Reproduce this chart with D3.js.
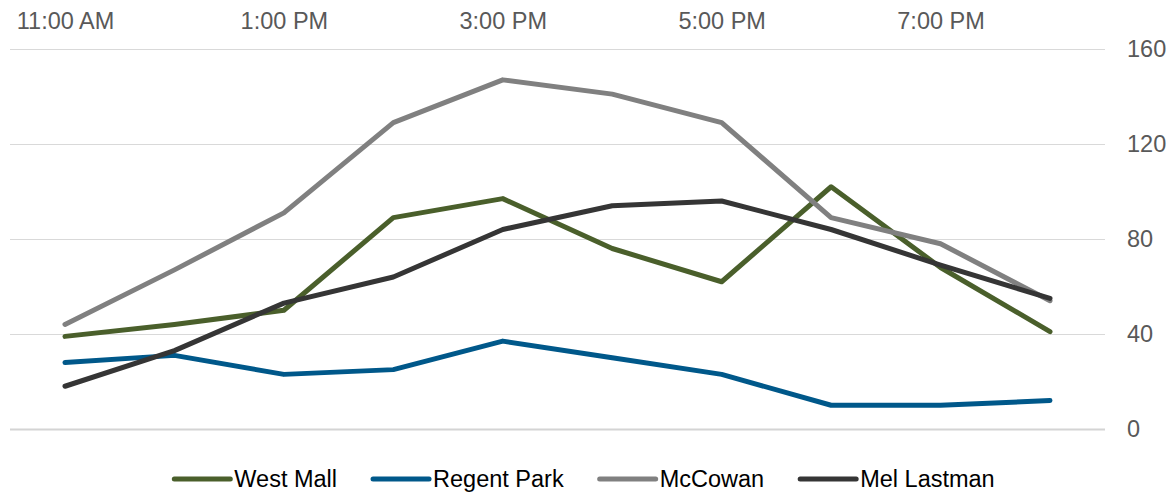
<!DOCTYPE html>
<html>
<head>
<meta charset="utf-8">
<script src="https://cdn.jsdelivr.net/npm/d3@7"></script>
<style>
  html, body { margin: 0; padding: 0; background: #fff; }
  svg { display: block; font-family: "Liberation Sans", Arial, sans-serif; }
</style>
</head>
<body>
<svg id="chart" width="1168" height="496"></svg>
<script>
const hours = ["11:00 AM","12:00 PM","1:00 PM","2:00 PM","3:00 PM","4:00 PM","5:00 PM","6:00 PM","7:00 PM","8:00 PM"];
const xTickLabels = ["11:00 AM","1:00 PM","3:00 PM","5:00 PM","7:00 PM"];
const yTicks = [0, 40, 80, 120, 160];
const seriesNames = ["West Mall","Regent Park","McCowan","Mel Lastman"];
const westMall   = [39, 44, 50, 89, 97, 76, 62, 102, 68, 41];
const regentPark = [28, 31, 23, 25, 37, 30, 23, 10, 10, 12];
const mcCowan    = [44, 67, 91, 129, 147, 141, 129, 89, 78, 54];
const melLastman = [18, 33, 53, 64, 84, 94, 96, 84, 69, 55];
const seriesColors = ["#4a5f2b", "#00588a", "#808080", "#353535"];

const seriesValues = [westMall, regentPark, mcCowan, melLastman];
const svg = d3.select("#chart");

const x = d3.scalePoint().domain(hours).range([65, 1050]);
const y = d3.scaleLinear().domain([0, 160]).range([429, 49]);

// Y axis + gridlines (right side)
const gridLeft = 10, gridRight = 1105;
const yAxis = svg.append("g")
  .attr("transform", `translate(${gridLeft},0)`)
  .call(d3.axisRight(y).tickValues(yTicks).tickSize(gridRight - gridLeft).tickPadding(22));
yAxis.select(".domain").remove();
yAxis.selectAll(".tick line")
  .attr("stroke", d => d === 0 ? "#d4d4d4" : "#d9d9d9")
  .attr("stroke-width", d => d === 0 ? 1.8 : 1.2);
yAxis.selectAll(".tick text")
  .attr("fill", "#595959")
  .style("font-size", "23.5px")
  .style("font-family", '"Liberation Sans", Arial, sans-serif');

// X axis (top)
const xAxis = svg.append("g")
  .attr("transform", "translate(0,37)")
  .call(d3.axisTop(x).tickValues(xTickLabels).tickSize(0).tickPadding(8));
xAxis.select(".domain").remove();
xAxis.selectAll(".tick text")
  .attr("fill", "#595959")
  .style("font-size", "23.5px")
  .style("font-family", '"Liberation Sans", Arial, sans-serif');

// Lines
const line = d3.line().x((d, i) => x(hours[i])).y(d => y(d));
seriesValues.forEach((vals, k) => {
  svg.append("path")
    .datum(vals)
    .attr("fill", "none")
    .attr("stroke", seriesColors[k])
    .attr("stroke-width", 5)
    .attr("stroke-linejoin", "round")
    .attr("stroke-linecap", "round")
    .attr("d", line);
});

// Legend
const legend = svg.append("g");
const swatchW = 56, swatchGap = 4, itemGap = 36, legendY = 479;
let cx = 0;
const items = [];
seriesNames.forEach((name, k) => {
  const g = legend.append("g");
  g.append("line")
    .attr("x1", 0).attr("x2", swatchW)
    .attr("y1", legendY).attr("y2", legendY)
    .attr("stroke", seriesColors[k]).attr("stroke-width", 5)
    .attr("stroke-linecap", "round");
  const t = g.append("text")
    .attr("x", swatchW + swatchGap).attr("y", legendY)
    .attr("dy", "0.35em")
    .attr("fill", "#000")
    .style("font-size", "23.5px")
    .text(name);
  const w = swatchW + swatchGap + t.node().getComputedTextLength();
  items.push({ g, w });
});
const total = d3.sum(items, d => d.w) + itemGap * (items.length - 1);
let start = 584.5 - total / 2;
items.forEach(it => {
  it.g.attr("transform", `translate(${start},0)`);
  start += it.w + itemGap;
});
</script>
</body>
</html>
